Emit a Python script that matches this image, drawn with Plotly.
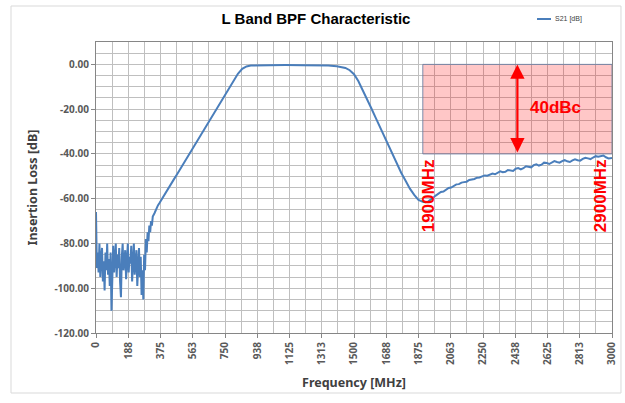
import plotly.graph_objects as go

# ---------------- data ----------------
freq_mhz = [
    0, 5, 10, 15, 20, 25, 30, 35, 40, 45, 50, 55, 60, 65, 70, 75, 80, 85, 90, 95,
    100, 105, 110, 115, 120, 125, 130, 135, 140, 145, 150, 155, 160, 165, 170, 175,
    180, 185, 190, 195, 200, 205, 210, 215, 220, 225, 230, 235, 240, 245, 250, 255,
    260, 265, 270, 275, 280, 285, 290, 295, 300, 305, 310, 315, 320, 325, 330, 340,
    350, 360, 370, 380, 400, 425, 450, 475, 500, 525, 550, 575, 600, 625, 650, 675,
    700, 725, 750, 775, 800, 825, 850, 875, 900, 937, 1000, 1100, 1200, 1300, 1350,
    1400, 1425, 1450, 1475, 1500, 1525, 1550, 1575, 1600, 1625, 1650, 1675, 1700,
    1725, 1750, 1775, 1800, 1825, 1850, 1875, 1900, 1915, 1930, 1945, 1960, 1975,
    1990, 2005, 2020, 2035, 2050, 2065, 2080, 2095, 2110, 2125, 2140, 2155, 2170,
    2185, 2200, 2215, 2230, 2245, 2260, 2275, 2290, 2305, 2320, 2335, 2350, 2365,
    2380, 2395, 2410, 2425, 2440, 2455, 2470, 2485, 2500, 2515, 2530, 2545, 2560,
    2575, 2590, 2605, 2620, 2635, 2650, 2665, 2680, 2695, 2710, 2725, 2740, 2755,
    2770, 2785, 2800, 2815, 2830, 2845, 2860, 2875, 2890, 2905, 2920, 2935, 2950,
    2965, 2980, 3000,
]
s21_db = [
    -66, -91, -84, -93, -80, -95, -86, -82, -97, -88, -101, -84, -92, -80, -94, -87, -99, -84, -110, -89,
    -81, -93, -86, -80, -95, -85, -91, -82, -97, -104, -86, -80, -92, -87, -83, -96,
    -85, -80, -93, -86, -89, -81, -97, -85, -80, -94, -87, -83, -99, -88, -82, -95,
    -86, -103, -92, -105, -85, -92, -78, -84, -75, -79, -72, -75, -70, -72, -68, -66.5,
    -64.5, -63, -61.8, -60.6, -58.1, -54.9, -51.7, -48.6, -45.4, -42.3, -39.2, -36.0, -32.8, -29.7, -26.5, -23.3,
    -20.1, -16.9, -13.7, -10.5, -7.2, -4.2, -2.0, -0.9, -0.5, -0.4, -0.3, -0.3, -0.35, -0.4, -0.5,
    -0.8, -1.1, -1.6, -2.6, -4.4, -7.4, -11.2, -15.3, -19.5, -23.7, -27.9, -32.1, -36.3,
    -40.4, -44.5, -48.5, -52.0, -55.5, -58.3, -60.5, -61.4, -61.6, -61.3, -60.6, -59.6, -58.6,
    -57.8, -57.0, -56.8, -56.0, -55.2, -55.0, -54.2, -53.6, -53.5, -52.8, -52.6, -52.4, -51.6,
    -51.4, -51.2, -50.6, -50.5, -50.0, -49.6, -49.7, -49.4, -48.8, -49.1, -48.6, -47.8, -48.2,
    -48.0, -47.2, -47.4, -47.6, -46.6, -46.3, -46.9, -46.4, -45.5, -45.8, -46.0, -45.0, -44.6,
    -45.2, -44.8, -43.9, -44.0, -44.5, -43.8, -43.2, -43.6, -43.9, -43.2, -42.8, -43.3, -43.6,
    -42.9, -42.4, -42.8, -43.0, -42.2, -41.7, -42.0, -42.3, -41.6, -41.0, -41.3, -41.1, -40.7,
    -41.5, -42.0, -41.8,
]

x_tick_values = [0, 187.5, 375, 562.5, 750, 937.5, 1125, 1312.5, 1500, 1687.5,
                 1875, 2062.5, 2250, 2437.5, 2625, 2812.5, 3000]
x_tick_labels = ["0", "188", "375", "563", "750", "938", "1125", "1313", "1500",
                 "1688", "1875", "2063", "2250", "2438", "2625", "2813", "3000"]
y_tick_values = [0, -20, -40, -60, -80, -100, -120]
y_tick_labels = ["0.00", "-20.00", "-40.00", "-60.00", "-80.00", "-100.00", "-120.00"]

# highlighted spec window (MHz, dB)
spec_f_start, spec_f_end = 1900, 3000
spec_db_top, spec_db_bottom = 0, -40

series_name = "S21 [dB]"
title_text = "L Band BPF Characteristic"

# ---------------- figure ----------------
BLUE = "#4a7ebb"
RED = "#ff0000"
GRID = "#bfbfbf"
LABEL_FONT = "Noto Sans"

fig = go.Figure()
fig.add_trace(go.Scatter(
    x=freq_mhz, y=s21_db, mode="lines", name=series_name,
    line=dict(color=BLUE, width=2), showlegend=False,
))

fig.update_layout(
    width=625, height=403, autosize=False,
    margin=dict(l=96, r=13, t=42, b=70),
    paper_bgcolor="white", plot_bgcolor="white",
    title=dict(text=title_text, x=0.5056, xanchor="center", xref="container",
               y=0.953, yanchor="middle", yref="container",
               font=dict(family="Liberation Sans, Arial", size=15, color="#000000", weight="bold")),
)

fig.update_xaxes(
    range=[0, 3000], tickmode="array", tickvals=x_tick_values, ticktext=x_tick_labels,
    tickangle=-90, tickfont=dict(family=LABEL_FONT, size=10, color="#595959", weight="bold"),
    showgrid=True, gridcolor=GRID, gridwidth=1,
    minor=dict(dtick=93.75, tick0=0, showgrid=True, gridcolor=GRID, gridwidth=1),
    showline=True, linecolor="#868686", linewidth=1, mirror=True,
    ticks="outside", ticklen=4, tickcolor="#868686",
    zeroline=False, automargin=False,
    title=dict(text="Frequency [MHz]", standoff=14,
               font=dict(family=LABEL_FONT, size=12.5, color="#404040", weight="bold")),
)
fig.update_yaxes(
    range=[-120, 10], tickmode="array", tickvals=y_tick_values, ticktext=y_tick_labels,
    tickfont=dict(family=LABEL_FONT, size=10, color="#595959", weight="bold"),
    showgrid=True, gridcolor=GRID, gridwidth=1,
    minor=dict(dtick=5, tick0=0, showgrid=True, gridcolor=GRID, gridwidth=1),
    showline=True, linecolor="#868686", linewidth=1, mirror=True,
    ticks="outside", ticklen=4, tickcolor="#868686",
    zeroline=False, automargin=False,
    title=dict(text="Insertion Loss [dB]", standoff=14,
               font=dict(family=LABEL_FONT, size=12.5, color="#404040", weight="bold")),
)

# outer chart frame
fig.add_shape(type="rect", xref="paper", yref="paper",
              x0=-0.1647, x1=1.0174, y0=-0.2062, y1=1.1237,
              line=dict(color="#d9d9d9", width=1), fillcolor="rgba(0,0,0,0)", layer="below")

# spec window
fig.add_shape(type="rect", xref="x", yref="y",
              x0=spec_f_start, x1=spec_f_end, y0=spec_db_bottom, y1=spec_db_top,
              line=dict(color="rgba(110,130,165,0.9)", width=1),
              fillcolor="rgba(255,0,0,0.22)", layer="above")

# double arrow 40 dBc
arrow_f = 2450
fig.add_annotation(x=arrow_f, y=spec_db_top, ax=arrow_f, ay=spec_db_bottom,
                   xref="x", yref="y", axref="x", ayref="y", text="",
                   showarrow=True, arrowhead=2, startarrowhead=2, arrowside="end+start",
                   arrowsize=1.3, arrowwidth=2.2, arrowcolor=RED)
fig.add_annotation(x=2670, y=-19.3, xref="x", yref="y", text="40dBc", showarrow=False,
                   font=dict(family="Liberation Sans, Arial", size=17, color=RED, weight="bold"))
fig.add_annotation(x=1930, y=-58.5, xref="x", yref="y", text="1900MHz", showarrow=False,
                   textangle=-90,
                   font=dict(family="Liberation Sans, Arial", size=17, color=RED, weight="bold"))
fig.add_annotation(x=2935, y=-58.5, xref="x", yref="y", text="2900MHz", showarrow=False,
                   textangle=-90,
                   font=dict(family="Liberation Sans, Arial", size=17, color=RED, weight="bold"))

# legend (line sample + label)
fig.add_shape(type="line", xref="paper", yref="paper", x0=0.8547, x1=0.8818, y0=1.079, y1=1.079,
              line=dict(color=BLUE, width=2))
fig.add_annotation(x=0.8857, y=1.079, xref="paper", yref="paper", xanchor="left", yanchor="middle",
                   text=series_name, showarrow=False,
                   font=dict(family="Liberation Sans, Arial", size=7, color="#404040"))

fig.write_html("out.html", config={"displayModeBar": False},
               post_script="document.body.style.margin='0';document.body.style.padding='0';")
